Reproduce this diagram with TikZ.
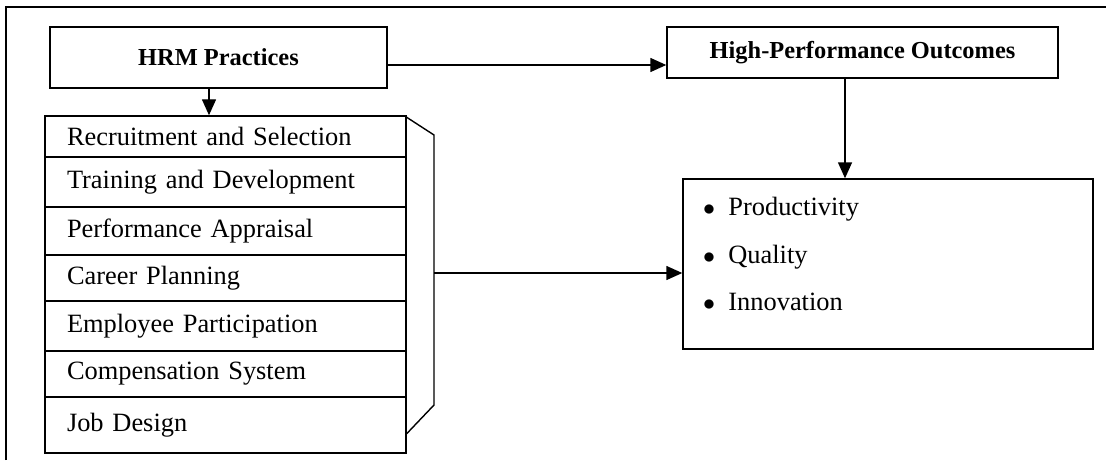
\documentclass[tikz,border=0pt]{standalone}
\usepackage{fontspec}
\setmainfont{Liberation Serif}
\usetikzlibrary{arrows.meta,positioning,calc}

\begin{document}
\begin{tikzpicture}[
    x=0.5pt, y=-0.5pt,
    box/.style={draw, line width=0.7pt, inner sep=0pt},
    head/.style={box, font=\fontsize{12.2}{14}\selectfont\bfseries},
    row/.style={box, minimum width=180.5pt, text width=158.5pt, inner xsep=11pt, align=left, font=\fontsize{13.2}{15}\selectfont},
    item/.style={font=\fontsize{13.2}{15}\selectfont, inner sep=0pt, anchor=base west},
    link/.style={line width=0.7pt, -{Triangle[length=8pt,width=7pt]}},
    frame/.style={line width=1pt}
]
    \useasboundingbox (0,0) rectangle (1106,460);

    % Outer frame
    \draw[frame] (6,460) -- (6,7) -- (1106,7);

    % Headers
    \node[head, minimum width=168.5pt, minimum height=30.5pt] (hrm) at (218.5,57.5) {HRM Practices};
    \node[head, minimum width=195.5pt, minimum height=25.5pt] (hpo) at (862.5,52.5) {High-Performance Outcomes};

    % Practices
    \foreach \n/\yc/\h/\txt in {1/136.5/41/Recruitment and Selection, 2/182/50/Training and Development,
        3/231/48/Performance Appraisal, 4/278/46/Career Planning, 5/326/50/Employee Participation,
        6/374/46/Compensation System, 7/425/56/Job Design} {
        \node[row, minimum height=\h*0.5pt] (r\n) at (225.5,\yc) {\txt};
    }

    % Outcomes
    \node[box, minimum width=205pt, minimum height=85pt] (out) at (888,264) {};
    \foreach \b/\txt [count=\i] in {215/Productivity, 263/Quality, 310/Innovation} {
        \node[item] (it\i) at (728,\b) {\txt};
        \node[item, anchor=base] (bu\i) at (709,\b) {$\bullet$};
    }

    % Bracket
    \coordinate (bt) at (434,135);
    \coordinate (bb) at (434,405);
    \coordinate (bm) at (434,273);
    \draw[line width=0.7pt] ([yshift=-1pt]r1.north east) -- (bt) -- (bb) -- ([yshift=10pt]r7.south east);

    % Arrows
    \draw[link] ([yshift=-3.75pt]hrm.east) -- ([yshift=-3.75pt]hrm.east -| hpo.west);
    \draw[link] ([xshift=-4.75pt]hrm.south) -- ([xshift=-4.75pt]hrm.south |- r1.north);
    \draw[link] ([xshift=-8.75pt]hpo.south) -- ([xshift=-8.75pt]hpo.south |- out.north);
    \draw[link] (bm) -- (bm -| out.west);
\end{tikzpicture}
\end{document}
